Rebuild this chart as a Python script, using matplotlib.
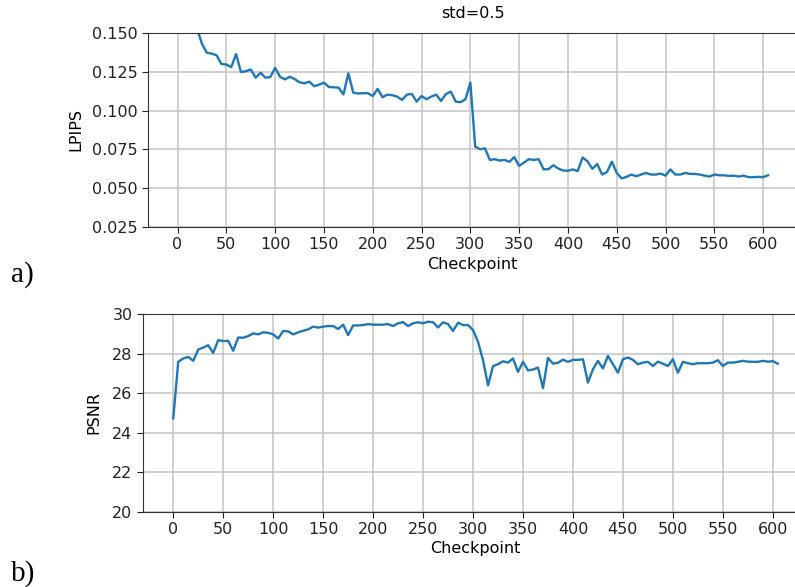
import numpy as np
import matplotlib
matplotlib.use("Agg")
import matplotlib.pyplot as plt

# checkpoints every 5 steps, 0..605
checkpoints = np.arange(0, 610, 5)

# LPIPS per checkpoint (first values are above the plotted range)
lpips = [
    0.320, 0.240, 0.200, 0.170, 0.1528, 0.1430, 0.1373, 0.1367, 0.1356, 0.1300,
    0.1297, 0.1280, 0.1364, 0.1248, 0.1254, 0.1265, 0.1212, 0.1244, 0.1212, 0.1216,
    0.1275, 0.1218, 0.1201, 0.1218, 0.1203, 0.1182, 0.1176, 0.1186, 0.1157, 0.1167,
    0.1180, 0.1152, 0.1150, 0.1148, 0.1104, 0.1240, 0.1116, 0.1110, 0.1112, 0.1112,
    0.1094, 0.1140, 0.1086, 0.1103, 0.1099, 0.1090, 0.1069, 0.1103, 0.1107, 0.1058,
    0.1094, 0.1073, 0.1090, 0.1103, 0.1062, 0.1107, 0.1122, 0.1058, 0.1054, 0.1073,
    0.1180, 0.0768, 0.0751, 0.0757, 0.0682, 0.0687, 0.0678, 0.0682, 0.0670, 0.0700,
    0.0644, 0.0665, 0.0687, 0.0682, 0.0687, 0.0622, 0.0622, 0.0648, 0.0627, 0.0614,
    0.0612, 0.0621, 0.0610, 0.0698, 0.0673, 0.0625, 0.0656, 0.0588, 0.0604, 0.0671,
    0.0598, 0.0563, 0.0573, 0.0588, 0.0577, 0.0588, 0.0598, 0.0588, 0.0588, 0.0594,
    0.0581, 0.0621, 0.0588, 0.0588, 0.0598, 0.0592, 0.0592, 0.0588, 0.0581, 0.0575,
    0.0588, 0.0583, 0.0583, 0.0579, 0.0581, 0.0575, 0.0581, 0.0571, 0.0571, 0.0573,
    0.0571, 0.0583,
]

# PSNR per checkpoint
psnr = [
    24.72, 27.58, 27.75, 27.83, 27.63, 28.20, 28.30, 28.42, 28.03, 28.68,
    28.63, 28.64, 28.14, 28.81, 28.80, 28.88, 29.02, 28.97, 29.07, 29.05,
    28.97, 28.76, 29.14, 29.12, 28.97, 29.07, 29.15, 29.22, 29.36, 29.31,
    29.36, 29.39, 29.39, 29.24, 29.46, 28.93, 29.42, 29.42, 29.44, 29.49,
    29.46, 29.46, 29.46, 29.49, 29.39, 29.53, 29.59, 29.39, 29.53, 29.58,
    29.53, 29.61, 29.58, 29.32, 29.58, 29.49, 29.14, 29.56, 29.44, 29.44,
    29.19, 28.59, 27.66, 26.39, 27.36, 27.46, 27.61, 27.54, 27.75, 27.07,
    27.58, 27.15, 27.19, 27.29, 26.25, 27.78, 27.49, 27.53, 27.69, 27.58,
    27.68, 27.68, 27.71, 26.53, 27.20, 27.63, 27.24, 27.88, 27.46, 27.03,
    27.71, 27.80, 27.68, 27.46, 27.54, 27.58, 27.37, 27.59, 27.49, 27.37,
    27.71, 27.03, 27.58, 27.51, 27.46, 27.51, 27.51, 27.51, 27.54, 27.66,
    27.37, 27.54, 27.54, 27.58, 27.63, 27.59, 27.58, 27.58, 27.63, 27.59,
    27.61, 27.49,
]

xticks = np.arange(0, 601, 50)

fig = plt.figure(figsize=(7.95, 5.87), dpi=100)

## ========== top: LPIPS
ax1 = fig.add_axes([0.1862, 0.6133, 0.817, 0.3305])
ax1.plot(checkpoints, lpips, color="#1f77b4", lw=1.7)
ax1.set_xlim(-30.25, 635.25)
ax1.set_ylim(0.025, 0.150)
ax1.set_xticks(xticks)
ax1.set_yticks(np.arange(0.025, 0.151, 0.025))
ax1.set_yticklabels(["%.3f" % v for v in np.arange(0.025, 0.151, 0.025)])
ax1.set_xlabel("Checkpoint", fontsize=11.5, labelpad=3)
ax1.set_ylabel("LPIPS", fontsize=11.5, labelpad=6)
ax1.set_title("std=0.5", fontsize=11.5, pad=11)

## ========== bottom: PSNR
ax2 = fig.add_axes([0.1799, 0.1283, 0.8365, 0.3368])
ax2.plot(checkpoints, psnr, color="#1f77b4", lw=1.7)
ax2.set_xlim(-30.25, 635.25)
ax2.set_ylim(20, 30)
ax2.set_xticks(xticks)
ax2.set_yticks(np.arange(20, 31, 2))
ax2.set_xlabel("Checkpoint", fontsize=11.5, labelpad=3)
ax2.set_ylabel("PSNR", fontsize=11.5, labelpad=8)

for ax in (ax1, ax2):
    ax.grid(True, color="#c8c8c8", lw=1.2)
    ax.tick_params(labelsize=11.5, colors="#222222", length=4)
    for s in ax.spines.values():
        s.set_color("#333333")

fig.text(0.014, 0.520, "a)", family="Liberation Serif", fontsize=21)
fig.text(0.014, 0.010, "b)", family="Liberation Serif", fontsize=21)

fig.savefig("out.png", dpi=100)
